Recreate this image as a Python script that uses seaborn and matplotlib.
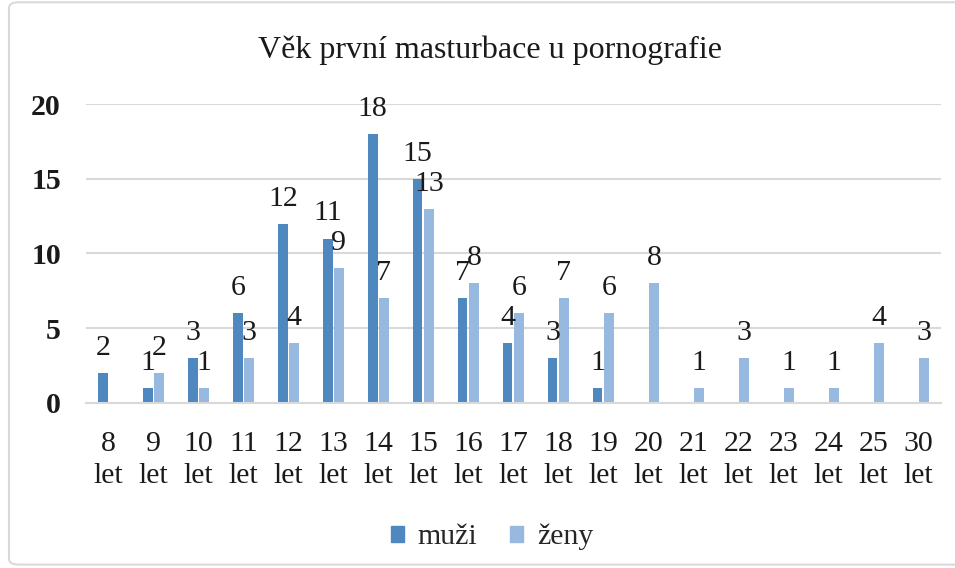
import pandas as pd
import numpy as np
import matplotlib.pyplot as plt
import seaborn as sns
from matplotlib.patches import FancyBboxPatch, Patch

sns.set_theme(style="white")
plt.rcParams['font.family'] = ['Liberation Serif', 'DejaVu Serif']

# -------------------------
#  Data
# -------------------------
ages = ["8\nlet", "9\nlet", "10\nlet", "11\nlet", "12\nlet", "13\nlet", "14\nlet",
        "15\nlet", "16\nlet", "17\nlet", "18\nlet", "19\nlet", "20\nlet", "21\nlet",
        "22\nlet", "23\nlet", "24\nlet", "25\nlet", "30\nlet"]
muzi = [2, 1, 3, 6, 12, 11, 18, 15, 7, 4, 3, 1, 0, 0, 0, 0, 0, 0, 0]
zeny = [0, 2, 1, 3, 4, 9, 7, 13, 8, 6, 7, 6, 8, 1, 3, 1, 1, 4, 3]
series = ["muži", "ženy"]
colors = ["#4f88be", "#97b9e0"]

df = pd.DataFrame({
    "vek": ages * 2,
    "pocet": muzi + zeny,
    "pohlavi": [series[0]] * len(ages) + [series[1]] * len(ages),
})

FS = 21.5

# -------------------------
#  Plot
# -------------------------
fig = plt.figure(figsize=(9.55, 5.68), dpi=100)
ax = fig.add_axes([0.090, 0.2905, 0.895, 0.5264])

sns.barplot(data=df, x="vek", y="pocet", hue="pohlavi", palette=colors,
            saturation=1, width=0.5, gap=0.15, linewidth=0, legend=False, ax=ax)

# data labels (skip zeros)
for cont in ax.containers:
    for bar in cont:
        h = bar.get_height()
        if h > 0:
            ax.annotate(f"{int(h)}", (bar.get_x() + bar.get_width() / 2, h),
                        xytext=(0, 13), textcoords="offset points",
                        ha="center", va="baseline", fontsize=FS,
                        color="#1a1a1a", annotation_clip=False)

ax.set_ylim(0, 20)
ax.set_xlim(-0.5, len(ages) - 0.5)
ax.set_yticks([0, 5, 10, 15, 20])
ax.yaxis.grid(True, color="#d9d9d9", linewidth=1.5)
ax.set_axisbelow(True)
for s in ["top", "right", "left"]:
    ax.spines[s].set_visible(False)
ax.spines["bottom"].set_color("#d9d9d9")
ax.spines["bottom"].set_linewidth(1.5)
ax.set_xlabel("")
ax.set_ylabel("")
ax.tick_params(axis="y", length=0, pad=18, labelsize=FS, labelcolor="#1a1a1a")
ax.tick_params(axis="x", length=0, pad=20, labelsize=FS, labelcolor="#1a1a1a")
for lbl in ax.get_yticklabels():
    lbl.set_fontweight("bold")
for lbl in ax.get_xticklabels():
    lbl.set_linespacing(1.3)

fig.text(490 / 955, 1 - 50 / 568, "Věk první masturbace u pornografie",
         ha="center", va="center", fontsize=23, color="#1a1a1a")

handles = [Patch(color=c, label=l) for c, l in zip(colors, series)]
fig.legend(handles=handles, loc="center", bbox_to_anchor=(492 / 955, 1 - 537 / 568),
           ncol=2, frameon=False, fontsize=FS, handlelength=0.45, handleheight=0.45,
           handletextpad=0.45, columnspacing=1.1)

# chart border
fig.patches.append(FancyBboxPatch((9 / 955, 0.006), 1.2, 0.99,
                                  boxstyle="round,pad=0,rounding_size=0.01",
                                  transform=fig.transFigure, fill=False,
                                  edgecolor="#d9d9d9", linewidth=1.5))

fig.savefig("out.png", dpi=100)
